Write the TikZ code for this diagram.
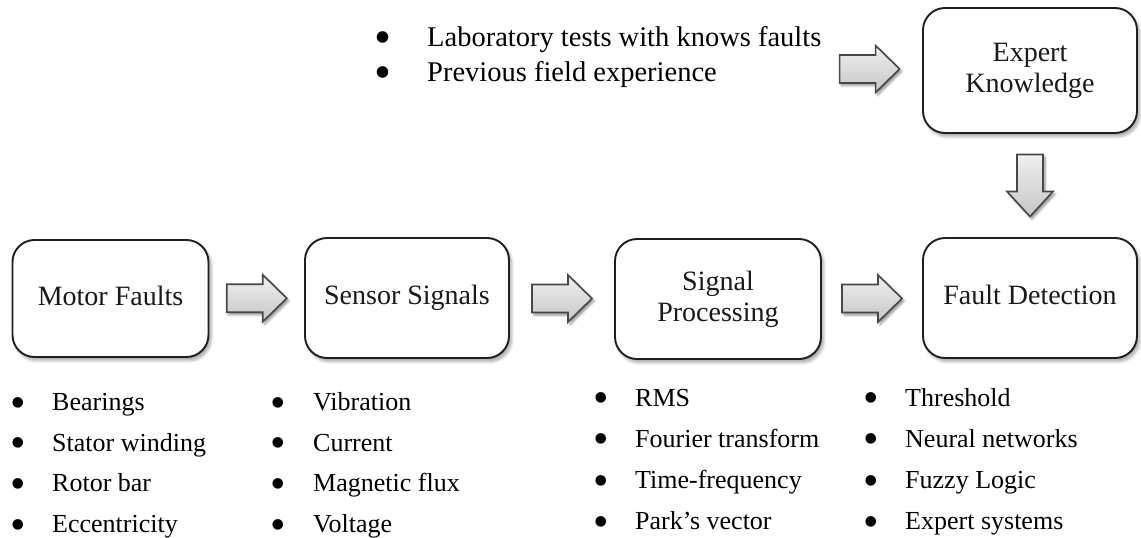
\documentclass[tikz,border=0pt]{standalone}
\usepackage{fontspec}
\setmainfont{Liberation Serif}
\usetikzlibrary{calc,shadows.blur}

\tikzset{
  stage/.style={draw=black!88, line width=1.9pt, rounded corners=22pt,
    fill=white, align=center, inner sep=0pt, text=black!90,
    font=\fontsize{28}{31}\selectfont,
    blur shadow={shadow xshift=2.5pt, shadow yshift=-3.5pt,
      shadow blur radius=3pt, shadow blur steps=6, shadow opacity=35}},
  single/.style={text height=19pt, text depth=6pt},
  item/.style={anchor=base west, inner sep=0pt, font=\fontsize{26}{31}\selectfont},
  bigitem/.style={item, font=\fontsize{28.5}{34}\selectfont},
  blockarrow/.style={draw=black!72, line width=1.6pt, line join=miter,
    top color=gray!12, bottom color=gray!45,
    blur shadow={shadow xshift=2pt, shadow yshift=-2.5pt,
      shadow blur radius=2.5pt, shadow blur steps=5, shadow opacity=45}},
}

% horizontal block arrow centred at #1
\newcommand\rightblock[1]{%
  \begin{scope}[shift={#1}]
    \path[blockarrow] (-30,-14) -- (6,-14) -- (6,-23.5) -- (30,0)
      -- (6,23.5) -- (6,14) -- (-30,14) -- cycle;
  \end{scope}}
% downward block arrow centred at #1
\newcommand\downblock[1]{%
  \begin{scope}[shift={#1}]
    \path[blockarrow] (-13,-31) -- (13,-31) -- (13,6) -- (23,6)
      -- (0,31) -- (-23,6) -- (-13,6) -- cycle;
  \end{scope}}

% enlarged bullet sign (no height or depth of its own)
\newcommand\bigdot{\smash{\raisebox{-0.25em}{\scalebox{1.7}{•}}}}

% bulleted list: #1 name prefix, #2 x, #3 first baseline, #4 line step,
% #5 bullet box width, #6 style, #7 items
\newcommand\bulletlist[7]{%
  \foreach \txt [count=\k] in {#7}
    \node[#6] (#1\k) at (#2,{#3+#4*(\k-1)}) {\makebox[#5][l]{\bigdot}\txt};}

\begin{document}
\begin{tikzpicture}[x=1pt, y=-1pt]
  \useasboundingbox (0,0) rectangle (1141,538);

  % process stages
  \node[stage, single, minimum width=196pt, minimum height=117pt] (mf) at (110.5,298.5) {Motor Faults};
  \node[stage, single, minimum width=204pt, minimum height=120pt] (ss) at (407,298) {Sensor Signals};
  \node[stage, minimum width=206pt, minimum height=120pt] (sp) at (718,299) {Signal\\Processing};
  \node[stage, single, minimum width=214pt, minimum height=120pt] (fd) at (1030,298) {Fault Detection};
  \node[stage, minimum width=214pt, minimum height=125pt] (ek) at (1030,70.5) {Expert\\Knowledge};

  % sources of expert knowledge
  \bulletlist{src}{374}{46}{35}{53pt}{bigitem}
    {Laboratory tests with knows faults, Previous field experience}

  % items under each stage
  \bulletlist{mfl}{10}{410.5}{40.7}{42pt}{item}
    {Bearings, Stator winding, Rotor bar, Eccentricity}
  \bulletlist{ssl}{270}{410.5}{40.7}{43pt}{item}
    {Vibration, Current, Magnetic flux, Voltage}
  \bulletlist{spl}{593}{406}{41.3}{42pt}{item}
    {RMS, Fourier transform, Time-frequency, Park’s vector}
  \bulletlist{fdl}{863}{406}{41.3}{42pt}{item}
    {Threshold, Neural networks, Fuzzy Logic, Expert systems}

  % block arrows between stages
  \rightblock{($(mf.east)!.5!(ss.west)$)}
  \rightblock{($(ss.east)!.5!(sp.west)$)}
  \rightblock{($(sp.east)!.5!(fd.west)$)}
  \rightblock{($(ek.west)+(-52.5,-1.5)$)}
  \downblock{($(ek.south)!.5!(fd.north)$)}
\end{tikzpicture}
\end{document}
